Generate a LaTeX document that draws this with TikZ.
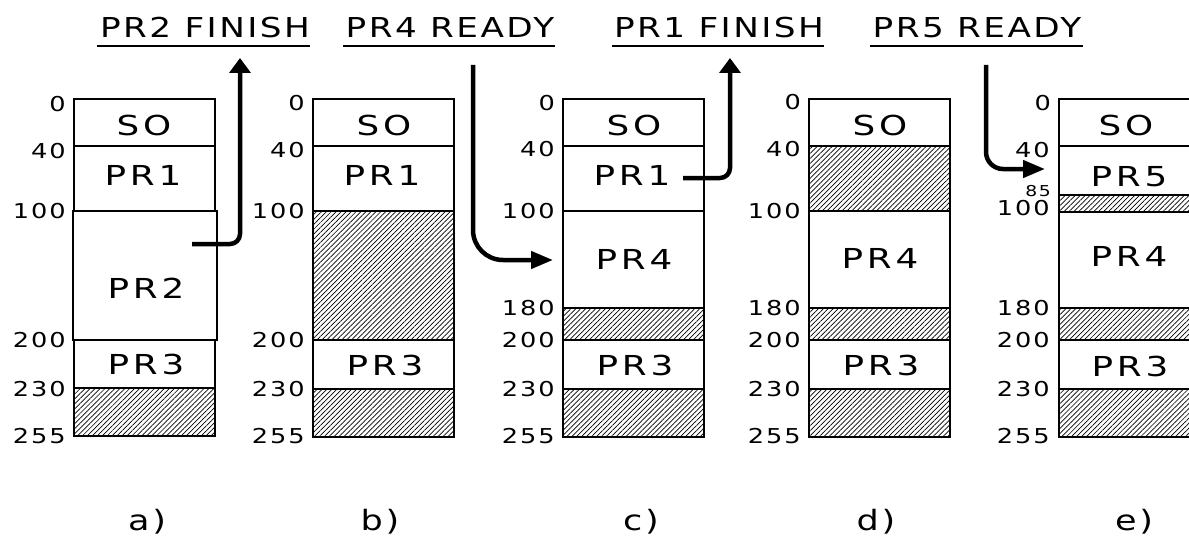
\documentclass[tikz,border=0pt]{standalone}
\usepackage{fontspec}
\setmainfont{DejaVu Sans}
\newfontfamily\hdfam{DejaVu Sans}[FakeStretch=1.25,LetterSpace=9]
\newfontfamily\lbfam{DejaVu Sans}[FakeStretch=1.3,LetterSpace=14]
\newfontfamily\nmfam{DejaVu Sans}[FakeStretch=1.25,LetterSpace=10]
\newfontfamily\cpfam{DejaVu Sans}[FakeStretch=1.25,LetterSpace=10]
\usetikzlibrary{patterns.meta,arrows.meta}
\tikzset{
  seg/.style={draw, line width=1.1pt, fill=white},
  hatch/.style={draw, line width=1.1pt, pattern={Lines[angle=45,distance=3.5pt,line width=0.7pt]}},
  lbl/.style={inner sep=0pt, font=\lbfam\fontsize{27.5}{30}\selectfont},
  num/.style={inner sep=0pt, anchor=east, font=\nmfam\fontsize{20.5}{22}\selectfont},
  smallnum/.style={inner sep=0pt, anchor=east, font=\nmfam\fontsize{15}{16}\selectfont},
  head/.style={inner sep=0pt, font=\hdfam\fontsize{27.4}{30}\selectfont},
  captxt/.style={inner sep=0pt, font=\cpfam\fontsize{28}{30}\selectfont},
  uline/.style={line width=1.1pt},
  upflow/.style={line width=4.5pt, rounded corners=10pt, -{Triangle[length=15pt,width=21pt]}},
  inflow/.style={line width=4.5pt, -{Triangle[length=22pt,width=17pt]}}
}
\begin{document}
\begin{tikzpicture}[x=1pt,y=-1pt]
\clip (0,0) rectangle (1189,543);
\fill[white] (0,0) rectangle (1189,543);

% ---------- headers ----------
\node[head] (h1) at (205,28) {PR2 FINISH};
\node[head] (h2) at (450,28) {PR4 READY};
\node[head] (h3) at (719,28) {PR1 FINISH};
\node[head] (h4) at (977,28) {PR5 READY};
\draw[uline] (97,46) -- (310,46);
\draw[uline] (343,46) -- (555,46);
\draw[uline] (612,46) -- (824,46);
\draw[uline] (870,46) -- (1083,46);

% ---------- a) ----------
\draw[seg] (74,99) rectangle (215,146);
\draw[seg] (74,146) rectangle (215,211);
\draw[seg] (73,211) rectangle (217,340);
\draw[seg] (74,340) rectangle (215,388);
\draw[hatch] (74,388) rectangle (215,436);
\node[lbl] (aso) at (144,125) {SO};
\node[lbl] (apr1) at (143,175) {PR1};
\node[lbl] (apr2) at (146,288) {PR2};
\node[lbl] (apr3) at (146,364) {PR3};
\node[num] (an0) at (66,104) {0};
\node[num] (an40) at (66,151) {40};
\node[num] (an100) at (66,211) {100};
\node[num] (an200) at (66,340) {200};
\node[num] (an230) at (66,389) {230};
\node[num] (an255) at (66,436) {255};

% ---------- b) ----------
\draw[seg] (313,99) rectangle (454,146);
\draw[seg] (313,146) rectangle (454,211);
\draw[hatch] (313,211) rectangle (454,340);
\draw[seg] (313,340) rectangle (454,389);
\draw[hatch] (313,389) rectangle (454,437);
\node[lbl] (bso) at (384,125) {SO};
\node[lbl] (bpr1) at (382,175) {PR1};
\node[lbl] (bpr3) at (385,365) {PR3};
\node[num] (bn0) at (305,103) {0};
\node[num] (bn40) at (305,150) {40};
\node[num] (bn100) at (305,211) {100};
\node[num] (bn200) at (305,340) {200};
\node[num] (bn230) at (305,389) {230};
\node[num] (bn255) at (305,436) {255};

% ---------- c) ----------
\draw[seg] (563,99) rectangle (704,146);
\draw[seg] (563,146) rectangle (704,211);
\draw[seg] (563,211) rectangle (704,308);
\draw[hatch] (563,308) rectangle (704,340);
\draw[seg] (563,340) rectangle (704,389);
\draw[hatch] (563,389) rectangle (704,437);
\node[lbl] (cso) at (634,125) {SO};
\node[lbl] (cpr1) at (632,175) {PR1};
\node[lbl] (cpr4) at (634,259) {PR4};
\node[lbl] (cpr3) at (635,365) {PR3};
\node[num] (cn0) at (555,103) {0};
\node[num] (cn40) at (555,149) {40};
\node[num] (cn100) at (555,211) {100};
\node[num] (cn180) at (555,308) {180};
\node[num] (cn200) at (555,340) {200};
\node[num] (cn230) at (555,389) {230};
\node[num] (cn255) at (555,436) {255};

% ---------- d) ----------
\draw[seg] (809,99) rectangle (950,146);
\draw[hatch] (809,146) rectangle (950,211);
\draw[seg] (809,211) rectangle (950,308);
\draw[hatch] (809,308) rectangle (950,340);
\draw[seg] (809,340) rectangle (950,389);
\draw[hatch] (809,389) rectangle (950,437);
\node[lbl] (dso) at (880,125) {SO};
\node[lbl] (dpr4) at (880,258) {PR4};
\node[lbl] (dpr3) at (881,365) {PR3};
\node[num] (dn0) at (801,102) {0};
\node[num] (dn40) at (801,149) {40};
\node[num] (dn100) at (801,211) {100};
\node[num] (dn180) at (801,308) {180};
\node[num] (dn200) at (801,340) {200};
\node[num] (dn230) at (801,389) {230};
\node[num] (dn255) at (801,436) {255};

% ---------- e) ----------
\draw[seg] (1059,99) rectangle (1200,146);
\draw[seg] (1059,146) rectangle (1200,195);
\draw[hatch] (1059,195) rectangle (1200,212);
\draw[seg] (1059,212) rectangle (1200,308);
\draw[hatch] (1059,308) rectangle (1200,340);
\draw[seg] (1059,340) rectangle (1200,389);
\draw[hatch] (1059,389) rectangle (1200,437);
\node[lbl] (eso) at (1126,125) {SO};
\node[lbl] (epr5) at (1129,177) {PR5};
\node[lbl] (epr4) at (1129,256) {PR4};
\node[lbl] (epr3) at (1130,366) {PR3};
\node[num] (en0) at (1051,103) {0};
\node[num] (en40) at (1050,150) {40};
\node[smallnum] (en85) at (1051,191) {85};
\node[num] (en100) at (1050,208) {100};
\node[num] (en180) at (1050,308) {180};
\node[num] (en200) at (1050,340) {200};
\node[num] (en230) at (1050,389) {230};
\node[num] (en255) at (1050,436) {255};

% ---------- captions ----------
\node[captxt] (ca) at (147,522) {a)};
\node[captxt] (cb) at (380,522) {b)};
\node[captxt] (cc) at (641,522) {c)};
\node[captxt] (cd) at (876,522) {d)};
\node[captxt] (ce) at (1134,522) {e)};

% ---------- arrows ----------
\coordinate (s1) at (192,244);
\coordinate (t1) at (240,58);
\coordinate (s2) at (473,65);
\coordinate (t2) at (553,260);
\coordinate (s3) at (683,178);
\coordinate (t3) at (730,58);
\coordinate (s4) at (986,65);
\coordinate (t4) at (1045,169);
\draw[upflow] (s1) -| (t1);
\draw[upflow] (s3) -| (t3);
\draw[inflow, rounded corners=30pt] (s2) |- (t2);
\draw[inflow, rounded corners=17pt] (s4) |- (t4);
\end{tikzpicture}
\end{document}
